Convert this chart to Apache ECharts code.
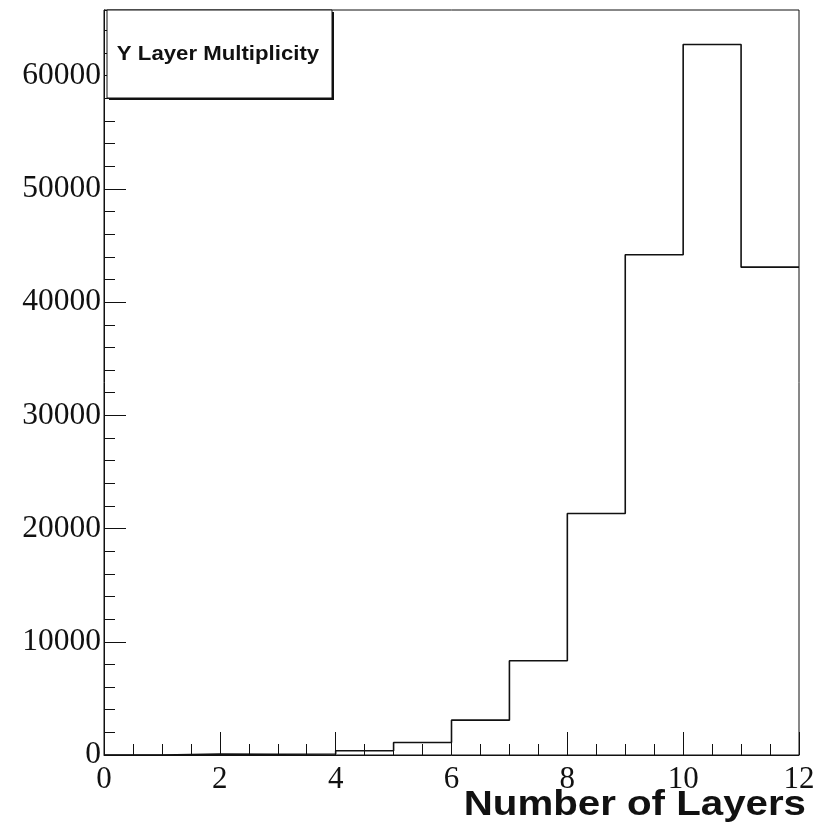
<!DOCTYPE html>
<html>
<head>
<meta charset="utf-8">
<script src="https://cdn.jsdelivr.net/npm/echarts@6/dist/echarts.min.js"></script>
<style>
html,body{margin:0;padding:0;background:#fff;}
#chart{width:825px;height:833px;}
</style>
</head>
<body>
<div id="chart"></div>
<script>
// Histogram bin edges (low edges) and counts
var binLowEdges = [0, 1, 2, 3, 4, 5, 6, 7, 8, 9, 10, 11];
var binWidth = 1;
var counts = [0, 80, 60, 90, 380, 1100, 3080, 8320, 21330, 44180, 62750, 43090];
var xTickValues = [0, 2, 4, 6, 8, 10, 12];
var yTickValues = [0, 10000, 20000, 30000, 40000, 50000, 60000];
var titleText = "Y Layer Multiplicity";
var xAxisTitle = "Number of Layers";

// step-line points built from the bins
var stepPts = [];
for (var i = 0; i < binLowEdges.length; i++) stepPts.push([binLowEdges[i], counts[i]]);
stepPts.push([binLowEdges[binLowEdges.length - 1] + binWidth, counts[counts.length - 1]]);

var yMax = 65800;
var serif = "'Liberation Serif','DejaVu Serif',serif";
var sans = "'Liberation Sans',Arial,sans-serif";

var chart = echarts.init(document.getElementById('chart'));
chart.setOption({
  animation: false,
  backgroundColor: '#fff',
  grid: {left: 104, right: 26, top: 10, bottom: 78, show: true, borderColor: '#111', borderWidth: 1, backgroundColor: 'transparent'},
  xAxis: [{
    type: 'value', min: xTickValues[0], max: xTickValues[xTickValues.length - 1], interval: 2,
    axisLine: {show: true, onZero: false, lineStyle: {color: '#111', width: 1}},
    axisTick: {show: true, inside: true, length: 23, lineStyle: {color: '#111', width: 1}},
    minorTick: {show: true, splitNumber: 4, length: 11, lineStyle: {color: '#111', width: 1}},
    splitLine: {show: false},
    axisLabel: {show: true, margin: 9, color: '#111', fontFamily: serif, fontSize: 31}
  }],
  yAxis: [{
    type: 'value', min: 0, max: yMax, interval: 10000,
    axisLine: {show: true, lineStyle: {color: '#111', width: 1}},
    axisTick: {show: true, inside: true, length: 22, lineStyle: {color: '#111', width: 1}},
    splitLine: {show: false},
    axisLabel: {show: true, showMaxLabel: false, margin: 3, color: '#111', fontFamily: serif, fontSize: 31.5,
      formatter: function (v) { return yTickValues.indexOf(v) >= 0 ? String(v) : ''; }}
  }, {
    type: 'value', min: 0, max: yMax, interval: 2000, position: 'left',
    axisLine: {show: false},
    axisTick: {show: true, inside: true, length: 11, lineStyle: {color: '#111', width: 1}},
    splitLine: {show: false},
    axisLabel: {show: false}
  }],
  series: [{
    type: 'line', step: 'end', data: stepPts, xAxisIndex: 0, yAxisIndex: 0,
    symbol: 'none', lineStyle: {color: '#111', width: 1.6}, clip: true
  }],
  graphic: [
    {type: 'rect', shape: {x: 109, y: 12, width: 225, height: 88}, style: {fill: '#111'}, z: 100},
    {type: 'rect', shape: {x: 107, y: 10, width: 225, height: 88}, style: {fill: '#fff', stroke: '#111', lineWidth: 1}, z: 101},
    {type: 'text', x: 218, y: 55, scaleX: 1.2, scaleY: 1.05, z: 102,
      style: {text: titleText, fill: '#111', font: 'bold 18.5px ' + sans, textAlign: 'center', textVerticalAlign: 'middle'}},
    {type: 'text', x: 806, y: 805, scaleX: 1.15, z: 102,
      style: {text: xAxisTitle, fill: '#111', font: 'bold 35px ' + sans, textAlign: 'right', textVerticalAlign: 'middle'}}
  ]
});
</script>
</body>
</html>
